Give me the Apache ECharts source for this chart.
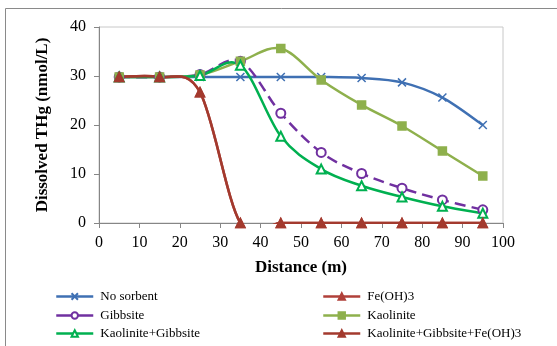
<!DOCTYPE html>
<html>
<head>
<meta charset="utf-8">
<script src="https://cdn.jsdelivr.net/npm/echarts@6/dist/echarts.min.js"></script>
<style>
  html, body { margin: 0; padding: 0; background: #fff; }
  #chart { width: 557px; height: 346px; }
</style>
</head>
<body>
<div id="chart"></div>
<script>
// Distance along the column (m)
const distance = [5, 15, 25, 35, 45, 55, 65, 75, 85, 95];

// Dissolved THg (nmol/L) for each sorbent case
const noSorbent = [29.8, 29.8, 29.8, 29.8, 29.8, 29.8, 29.6, 28.7, 25.6, 20.0];
const feOH3 = [29.8, 29.8, 26.7, 0, 0, 0, 0, 0, 0, 0];
const gibbsite = [29.8, 29.8, 30.3, 33.0, 22.4, 14.4, 10.1, 7.1, 4.7, 2.7];
const kaolinite = [29.8, 29.8, 30.2, 33.0, 35.6, 29.2, 24.1, 19.8, 14.7, 9.6];
const kaolGibb = [29.8, 29.8, 30.1, 32.2, 17.7, 11.0, 7.6, 5.3, 3.4, 2.0];
const kaolGibbFe = [29.8, 29.8, 26.7, 0, 0, 0, 0, 0, 0, 0];

// Axis ticks
const xTicks = [0, 10, 20, 30, 40, 50, 60, 70, 80, 90, 100];
const yTicks = [0, 10, 20, 30, 40];

const pairs = ys => distance.map((x, i) => [x, ys[i]]);
const serif = '"Liberation Serif", "Times New Roman", serif';
const crossSymbol = 'path://M0,0L10,10M10,0L0,10';

// Curve definitions: name, values, colour, marker, marker size, dash
const curves = [
  { name: 'No sorbent', ys: noSorbent, color: '#3F70B3', symbol: crossSymbol, size: 8, empty: false },
  { name: 'Gibbsite', ys: gibbsite, color: '#7030A0', symbol: 'emptyCircle', size: 9, empty: true, dash: [11, 6] },
  { name: 'Kaolinite', ys: kaolinite, color: '#8EB04C', symbol: 'rect', size: 8, empty: false },
  { name: 'Kaolinite+Gibbsite', ys: kaolGibb, color: '#00B050', symbol: 'emptyTriangle', size: 9, empty: true },
  { name: 'Fe(OH)3', ys: feOH3, color: '#B0403A', symbol: 'triangle', size: 9, empty: false },
  { name: 'Kaolinite+Gibbsite+Fe(OH)3', ys: kaolGibbFe, color: '#A33A2E', symbol: 'triangle', size: 9, empty: false }
];

// Cardinal-spline path through the projected points (tension 1/6 per side)
function splinePath(pts) {
  let d = 'M' + pts[0][0] + ',' + pts[0][1];
  for (let i = 0; i < pts.length - 1; i++) {
    const p0 = pts[Math.max(i - 1, 0)];
    const p1 = pts[i];
    const p2 = pts[i + 1];
    const p3 = pts[Math.min(i + 2, pts.length - 1)];
    const c1x = p1[0] + (p2[0] - p0[0]) / 6;
    const c1y = p1[1] + (p2[1] - p0[1]) / 6;
    const c2x = p2[0] - (p3[0] - p1[0]) / 6;
    const c2y = p2[1] - (p3[1] - p1[1]) / 6;
    d += 'C' + c1x + ',' + c1y + ',' + c2x + ',' + c2y + ',' + p2[0] + ',' + p2[1];
  }
  return d;
}

const curveSeries = curves.map(c => ({
  type: 'custom',
  data: pairs(c.ys),
  silent: true,
  z: 2,
  renderItem: function (params, api) {
    if (params.dataIndex !== 0) return null;
    const pts = distance.map((x, i) => api.coord([x, c.ys[i]]));
    const cs = params.coordSys;
    return {
      type: 'path',
      shape: { pathData: splinePath(pts) },
      style: {
        fill: 'none',
        stroke: c.color,
        lineWidth: 2.5,
        lineDash: c.dash || null,
        lineJoin: 'round'
      },
      clipPath: { type: 'rect', shape: { x: cs.x, y: cs.y - 6, width: cs.width + 6, height: cs.height + 7 } }
    };
  }
}));

const markerSeries = curves.map(c => ({
  name: c.name,
  type: 'line',
  data: pairs(c.ys),
  symbol: c.symbol,
  symbolSize: c.size,
  showAllSymbol: true,
  z: 3,
  lineStyle: { color: c.color, width: 2.5, opacity: 0 },
  itemStyle: { color: c.color, borderColor: c.color, borderWidth: c.empty ? 1.3 : 1.5 },
  emphasis: { disabled: true }
}));

// One legend entry per slot: two columns of three rows
const legendSlots = [
  [0, 55, 290], [1, 55, 309], [3, 55, 327],
  [4, 322, 290], [2, 322, 309], [5, 322, 327]
];
const legends = legendSlots.map(([idx, left, top]) => ({
  data: [curves[idx].name],
  left: left,
  top: top,
  padding: 0,
  itemWidth: 37,
  itemHeight: 8,
  selectedMode: false,
  lineStyle: { color: curves[idx].color, width: 2.5, opacity: 1, type: 'solid' },
  textStyle: { fontFamily: serif, fontSize: 13, color: '#000', padding: [0, 0, 0, 2] }
}));

const chart = echarts.init(document.getElementById('chart'), null, { renderer: 'canvas' });
chart.setOption({
  animation: false,
  backgroundColor: '#fff',
  graphic: [{
    type: 'rect',
    shape: { x: 5.5, y: 8.5, width: 700, height: 500 },
    style: { fill: 'none', stroke: '#8a8a8a', lineWidth: 1 },
    silent: true,
    z: -10
  }],
  grid: { left: 99, top: 27, right: 54, bottom: 123, show: true, borderColor: '#C8C8C8', borderWidth: 1 },
  legend: legends,
  xAxis: {
    type: 'value',
    min: xTicks[0],
    max: xTicks[xTicks.length - 1],
    interval: xTicks[1] - xTicks[0],
    name: 'Distance (m)',
    nameLocation: 'middle',
    nameGap: 36,
    nameTextStyle: { fontFamily: serif, fontSize: 17, fontWeight: 'bold', color: '#000' },
    axisLine: { lineStyle: { color: '#868686', width: 1 } },
    axisTick: { show: true, inside: false, length: 5, lineStyle: { color: '#868686' } },
    axisLabel: { fontFamily: serif, fontSize: 16, color: '#000', margin: 12 },
    splitLine: { show: false }
  },
  yAxis: {
    type: 'value',
    min: yTicks[0],
    max: yTicks[yTicks.length - 1],
    interval: yTicks[1] - yTicks[0],
    name: 'Dissolved THg (nmol/L)',
    nameLocation: 'middle',
    nameGap: 48,
    nameTextStyle: { fontFamily: serif, fontSize: 17, fontWeight: 'bold', color: '#000' },
    axisLine: { show: true, lineStyle: { color: '#868686', width: 1 } },
    axisTick: { show: true, inside: false, length: 5, lineStyle: { color: '#868686' } },
    axisLabel: { fontFamily: serif, fontSize: 16, color: '#000', margin: 13 },
    splitLine: { show: false }
  },
  series: curveSeries.concat(markerSeries)
});
</script>
</body>
</html>
